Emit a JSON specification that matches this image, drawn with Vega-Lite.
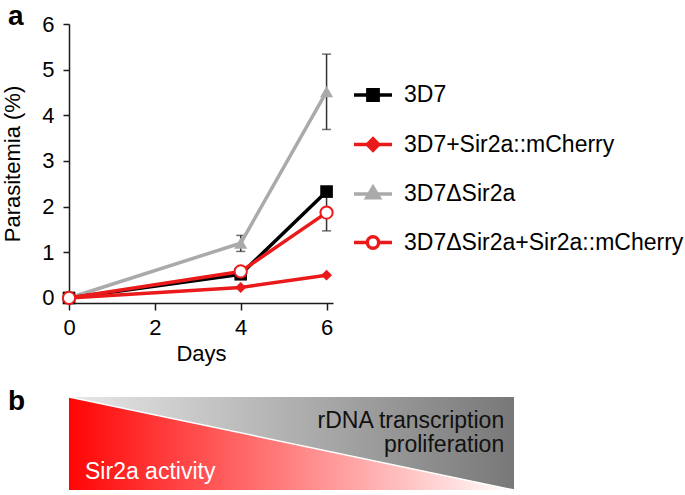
{
  "$schema": "https://vega.github.io/schema/vega-lite/v6.json",
  "background": "white",
  "padding": {"left": 1, "top": 2, "right": 0, "bottom": 0},
  "spacing": 24,
  "datasets": {
    "growth": [
      {"series": "3D7ΔSir2a", "day": 0, "value": 0},
      {"series": "3D7ΔSir2a", "day": 4, "value": 1.2},
      {"series": "3D7ΔSir2a", "day": 6, "value": 4.52},
      {"series": "3D7", "day": 0, "value": 0},
      {"series": "3D7", "day": 4, "value": 0.52},
      {"series": "3D7", "day": 6, "value": 2.33},
      {"series": "3D7+Sir2a::mCherry", "day": 0, "value": 0},
      {"series": "3D7+Sir2a::mCherry", "day": 4, "value": 0.23},
      {"series": "3D7+Sir2a::mCherry", "day": 6, "value": 0.5},
      {"series": "3D7ΔSir2a+Sir2a::mCherry", "day": 0, "value": 0},
      {"series": "3D7ΔSir2a+Sir2a::mCherry", "day": 4, "value": 0.58},
      {"series": "3D7ΔSir2a+Sir2a::mCherry", "day": 6, "value": 1.87}
    ],
    "errors": [
      {"series": "3D7ΔSir2a", "day": 4, "lo": 1.02, "hi": 1.37},
      {"series": "3D7ΔSir2a", "day": 6, "lo": 3.69, "hi": 5.34},
      {"series": "3D7ΔSir2a+Sir2a::mCherry", "day": 6, "lo": 1.47, "hi": 2.27}
    ],
    "triangles": [
      {"part": "gray", "pos": 0, "top": 1, "bottom": 1},
      {"part": "gray", "pos": 1, "top": 1, "bottom": 0},
      {"part": "red", "pos": 0, "top": 1, "bottom": 0},
      {"part": "red", "pos": 1, "top": 0, "bottom": 0}
    ],
    "single": [{}]
  },
  "config": {
    "view": {"stroke": null},
    "font": "Liberation Sans",
    "axis": {
      "grid": false,
      "labelFont": "Liberation Sans",
      "titleFont": "Liberation Sans",
      "labelFontSize": 22,
      "titleFontSize": 22,
      "titleFontWeight": "normal",
      "labelColor": "#000000",
      "titleColor": "#000000",
      "domainColor": "#1a1a1a",
      "tickColor": "#1a1a1a",
      "domainWidth": 1.5,
      "tickWidth": 1.5,
      "labelFlush": false,
      "labelOverlap": false,
      "labelBound": false
    }
  },
  "vconcat": [
    {
      "width": 264,
      "height": 279,
      "layer": [
        {
          "data": {"name": "errors"},
          "mark": {"type": "rule", "color": "#333333", "strokeWidth": 1.5},
          "encoding": {
            "x": {"field": "day", "type": "quantitative", "title": "Days",
                  "scale": {"domain": [0, 6.15], "nice": false, "zero": false},
                  "axis": {"values": [0, 2, 4, 6], "tickSize": 7, "labelPadding": 7, "titlePadding": 5}},
            "y": {"field": "lo", "type": "quantitative", "title": "Parasitemia (%)",
                  "scale": {"domain": [-0.11, 6], "nice": false, "zero": false},
                  "axis": {"values": [0, 1, 2, 3, 4, 5, 6], "tickSize": 6, "labelPadding": 9, "titlePadding": 17}},
            "y2": {"field": "hi"}
          }
        },
        {
          "data": {"name": "errors"},
          "mark": {"type": "tick", "orient": "horizontal", "color": "#333333", "size": 9, "thickness": 1.5},
          "encoding": {
            "x": {"field": "day", "type": "quantitative", "title": "Days"},
            "y": {"field": "lo", "type": "quantitative", "title": "Parasitemia (%)"}
          }
        },
        {
          "data": {"name": "errors"},
          "mark": {"type": "tick", "orient": "horizontal", "color": "#333333", "size": 9, "thickness": 1.5},
          "encoding": {
            "x": {"field": "day", "type": "quantitative", "title": "Days"},
            "y": {"field": "hi", "type": "quantitative", "title": "Parasitemia (%)"}
          }
        },
        {
          "data": {"name": "growth"},
          "transform": [{"filter": {"field": "series", "equal": "3D7ΔSir2a"}}],
          "mark": {"type": "line", "color": "#aaaaaa", "strokeWidth": 3.5,
                   "point": {"shape": "triangle-up", "size": 170, "filled": true, "color": "#aaaaaa"}},
          "encoding": {
            "x": {"field": "day", "type": "quantitative", "title": "Days"},
            "y": {"field": "value", "type": "quantitative", "title": "Parasitemia (%)"}
          }
        },
        {
          "data": {"name": "growth"},
          "transform": [{"filter": {"field": "series", "equal": "3D7"}}],
          "mark": {"type": "line", "color": "#000000", "strokeWidth": 3.5,
                   "point": {"shape": "square", "size": 160, "filled": true, "color": "#000000"}},
          "encoding": {
            "x": {"field": "day", "type": "quantitative", "title": "Days"},
            "y": {"field": "value", "type": "quantitative", "title": "Parasitemia (%)"}
          }
        },
        {
          "data": {"name": "growth"},
          "transform": [{"filter": {"field": "series", "equal": "3D7+Sir2a::mCherry"}}],
          "mark": {"type": "line", "color": "#ea1a1a", "strokeWidth": 3.5,
                   "point": {"shape": "diamond", "size": 120, "filled": true, "color": "#ea1a1a"}},
          "encoding": {
            "x": {"field": "day", "type": "quantitative", "title": "Days"},
            "y": {"field": "value", "type": "quantitative", "title": "Parasitemia (%)"}
          }
        },
        {
          "data": {"name": "growth"},
          "transform": [{"filter": {"field": "series", "equal": "3D7ΔSir2a+Sir2a::mCherry"}}],
          "mark": {"type": "line", "color": "#ea1a1a", "strokeWidth": 3.5,
                   "point": {"shape": "circle", "size": 150, "filled": true, "fill": "#ffffff", "stroke": "#ea1a1a", "strokeWidth": 2}},
          "encoding": {
            "x": {"field": "day", "type": "quantitative", "title": "Days"},
            "y": {"field": "value", "type": "quantitative", "title": "Parasitemia (%)"}
          }
        },
        {
          "data": {"name": "single"},
          "mark": {"type": "text", "align": "left", "baseline": "alphabetic", "font": "Liberation Sans", "fontSize": 28, "fontWeight": "bold", "color": "#000000"},
          "encoding": {"x": {"datum": -1.42}, "y": {"datum": 5.98}, "text": {"value": "a"}}
        },
        {
          "data": {"name": "growth"},
          "transform": [{"filter": "datum.day < 0"}],
          "mark": {"type": "point", "filled": true},
          "encoding": {
            "x": {"field": "day", "type": "quantitative", "title": "Days"},
            "y": {"field": "value", "type": "quantitative", "title": "Parasitemia (%)"},
            "shape": {"field": "series", "type": "nominal",
              "scale": {"domain": ["3D7", "3D7+Sir2a::mCherry", "3D7ΔSir2a", "3D7ΔSir2a+Sir2a::mCherry"],
                        "range": ["M-1,0H1M-0.27,-0.27H0.27V0.27H-0.27Z", "M-1,0H1M0,-0.3L0.3,0L0,0.3L-0.3,0Z", "M-1,0H1M0,-0.36L0.33,0.2L-0.33,0.2Z", "M-1,0H-0.3M0.3,0H1M0.3,0A0.3,0.3,0,1,1,-0.3,0A0.3,0.3,0,1,1,0.3,0Z"]},
              "legend": {"title": null, "orient": "none", "legendX": 283, "legendY": 50, "labelFont": "Liberation Sans", "labelFontSize": 23, "labelColor": "#000000", "labelOffset": 10, "labelLimit": 400, "rowPadding": 15.5, "symbolSize": 1444, "symbolStrokeWidth": 3.5, "symbolOpacity": 1, "padding": 0}},
            "fill": {"field": "series", "type": "nominal",
              "scale": {"domain": ["3D7", "3D7+Sir2a::mCherry", "3D7ΔSir2a", "3D7ΔSir2a+Sir2a::mCherry"],
                        "range": ["#000000", "#ea1a1a", "#aaaaaa", "#ffffff"]},
              "legend": {"title": null, "orient": "none", "legendX": 283, "legendY": 50, "labelFont": "Liberation Sans", "labelFontSize": 23, "labelColor": "#000000", "labelOffset": 10, "labelLimit": 400, "rowPadding": 15.5, "symbolSize": 1444, "symbolStrokeWidth": 3.5, "symbolOpacity": 1, "padding": 0}},
            "stroke": {"field": "series", "type": "nominal",
              "scale": {"domain": ["3D7", "3D7+Sir2a::mCherry", "3D7ΔSir2a", "3D7ΔSir2a+Sir2a::mCherry"],
                        "range": ["#000000", "#ea1a1a", "#aaaaaa", "#ea1a1a"]},
              "legend": {"title": null, "orient": "none", "legendX": 283, "legendY": 50, "labelFont": "Liberation Sans", "labelFontSize": 23, "labelColor": "#000000", "labelOffset": 10, "labelLimit": 400, "rowPadding": 15.5, "symbolSize": 1444, "symbolStrokeWidth": 3.5, "symbolOpacity": 1, "padding": 0}}
          }
        }
      ]
    },
    {
      "width": 445,
      "height": 93,
      "layer": [
        {
          "data": {"name": "triangles"},
          "transform": [{"filter": {"field": "part", "equal": "gray"}}],
          "mark": {"type": "area", "opacity": 1,
                   "color": {"gradient": "linear", "x1": 0, "x2": 1, "y1": 0, "y2": 0,
                             "stops": [{"offset": 0, "color": "#e8e8e8"}, {"offset": 1, "color": "#787878"}]}},
          "encoding": {
            "x": {"field": "pos", "type": "quantitative", "scale": {"domain": [0, 1], "nice": false, "zero": false}, "axis": null},
            "y": {"field": "top", "type": "quantitative", "scale": {"domain": [0, 1], "nice": false, "zero": false}, "axis": null},
            "y2": {"field": "bottom"}
          }
        },
        {
          "data": {"name": "triangles"},
          "transform": [{"filter": {"field": "part", "equal": "red"}}],
          "mark": {"type": "area", "opacity": 1,
                   "color": {"gradient": "linear", "x1": 0, "x2": 1, "y1": 0, "y2": 0,
                             "stops": [{"offset": 0, "color": "#ff0505"}, {"offset": 1, "color": "#ffffff"}]}},
          "encoding": {
            "x": {"field": "pos", "type": "quantitative"},
            "y": {"field": "top", "type": "quantitative"},
            "y2": {"field": "bottom"}
          }
        },
        {
          "data": {"name": "triangles"},
          "transform": [{"filter": {"field": "part", "equal": "red"}}],
          "mark": {"type": "line", "color": "#ffffff", "strokeWidth": 1.5},
          "encoding": {
            "x": {"field": "pos", "type": "quantitative"},
            "y": {"field": "top", "type": "quantitative"}
          }
        },
        {
          "data": {"name": "single"},
          "mark": {"type": "text", "align": "right", "baseline": "alphabetic", "font": "Liberation Sans", "fontSize": 23, "color": "#111111"},
          "encoding": {"x": {"datum": 0.978}, "y": {"datum": 0.67}, "text": {"value": "rDNA transcription"}}
        },
        {
          "data": {"name": "single"},
          "mark": {"type": "text", "align": "right", "baseline": "alphabetic", "font": "Liberation Sans", "fontSize": 23, "color": "#111111"},
          "encoding": {"x": {"datum": 0.978}, "y": {"datum": 0.41}, "text": {"value": "proliferation"}}
        },
        {
          "data": {"name": "single"},
          "mark": {"type": "text", "align": "left", "baseline": "alphabetic", "font": "Liberation Sans", "fontSize": 23, "color": "#ffffff"},
          "encoding": {"x": {"datum": 0.036}, "y": {"datum": 0.12}, "text": {"value": "Sir2a activity"}}
        },
        {
          "data": {"name": "single"},
          "mark": {"type": "text", "align": "left", "baseline": "alphabetic", "font": "Liberation Sans", "fontSize": 28, "fontWeight": "bold", "color": "#000000"},
          "encoding": {"x": {"datum": -0.137}, "y": {"datum": 0.86}, "text": {"value": "b"}}
        }
      ]
    }
  ]
}
